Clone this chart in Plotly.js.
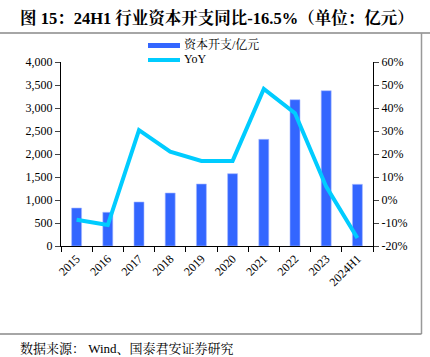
<!DOCTYPE html>
<html><head><meta charset="utf-8">
<script src="https://cdn.plot.ly/plotly-3.0.1.min.js"></script>
<style>body{margin:0;padding:0;background:#fff}#c{width:430px;height:357px}</style>
</head><body><div id="c"></div>
<script>
const categories = ['2015','2016','2017','2018','2019','2020','2021','2022','2023','2024H1'];
const capex = [826, 733, 957, 1152, 1348, 1572, 2319, 3180, 3376, 1341];
const yoy = [-8.6, -10.9, 30.4, 21, 17, 17, 48.3, 37.7, 5.8, -16.5];
const leftTicks = [0,500,1000,1500,2000,2500,3000,3500,4000];
const rightTicks = [-20,-10,0,10,20,30,40,50,60];
const seriesNames = ['资本开支/亿元', 'YoY'];

const L=61, R=373, T=62, B=246, W=430, H=357;
const px = x => (x-L)/(R-L);
const py = y => (B-y)/(B-T);
const FONT = '"Liberation Serif", "Times New Roman", "Noto Serif CJK SC", "Noto Sans CJK SC", serif';
const BAR_C = '#3366FF', LINE_C = '#00CCFF';

const traces = [
  {type:'bar', x:categories, y:capex, name:seriesNames[0], marker:{color:BAR_C, line:{color:'#aabbff', width:0.6}}, width:0.32, yaxis:'y'},
  {type:'scatter', mode:'lines', x:categories, y:yoy, name:seriesNames[1], line:{color:LINE_C, width:4}, yaxis:'y2'}
];
const layout = {
  width:W, height:H, margin:{l:L, r:W-R, t:T, b:H-B},
  paper_bgcolor:'#fff', plot_bgcolor:'#fff', showlegend:false,
  font:{family:FONT, size:12, color:'#000'},
  xaxis:{type:'category', tickson:'boundaries', ticks:'outside', ticklen:5, tickcolor:'#000',
    showline:true, linecolor:'#000', linewidth:1, tickangle:-45, showgrid:false, zeroline:false,
    tickfont:{family:FONT, size:12}},
  yaxis:{range:[0,4000], tickvals:leftTicks, ticktext:leftTicks.map(v=>v.toLocaleString('en-US')),
    ticks:'outside', ticklen:5, showline:true, linecolor:'#000', showgrid:false, zeroline:false,
    tickfont:{family:FONT, size:12}},
  yaxis2:{range:[-20,60], overlaying:'y', side:'right', tickvals:rightTicks, ticktext:rightTicks.map(v=>v+'%'),
    ticks:'outside', ticklen:5, showline:true, linecolor:'#000', showgrid:false, zeroline:false,
    tickfont:{family:FONT, size:12}},
  annotations:[
    {xref:'paper', yref:'paper', x:px(217), y:py(18), xanchor:'center', yanchor:'middle', showarrow:false,
     text:'<b>图 15：24H1 行业资本开支同比-16.5%（单位：亿元）</b>', font:{family:FONT, size:16.5, color:'#000'}},
    {xref:'paper', yref:'paper', x:px(18), y:py(348), xanchor:'left', yanchor:'middle', showarrow:false,
     text:'数据来源： Wind、国泰君安证券研究', font:{family:FONT, size:13, color:'#000'}},
    {xref:'paper', yref:'paper', x:px(182), y:py(45), xanchor:'left', yanchor:'middle', showarrow:false,
     text:seriesNames[0], font:{family:FONT, size:12, color:'#000'}},
    {xref:'paper', yref:'paper', x:px(182), y:py(59), xanchor:'left', yanchor:'middle', showarrow:false,
     text:seriesNames[1], font:{family:FONT, size:12, color:'#000'}}
  ],
  shapes:[
    {type:'line', xref:'paper', yref:'paper', x0:px(0), x1:px(430), y0:py(33), y1:py(33), line:{color:'#888', width:1.5}},
    {type:'line', xref:'paper', yref:'paper', x0:px(421.5), x1:px(421.5), y0:py(33), y1:py(334), line:{color:'#999', width:1.5}},
    {type:'line', xref:'paper', yref:'paper', x0:px(0), x1:px(421.5), y0:py(334), y1:py(334), line:{color:'#888', width:1.5}},
    {type:'rect', xref:'paper', yref:'paper', x0:px(148), x1:px(180), y0:py(43), y1:py(48), fillcolor:BAR_C, line:{width:0}},
    {type:'line', xref:'paper', yref:'paper', x0:px(148), x1:px(180), y0:py(60), y1:py(60), line:{color:LINE_C, width:4}}
  ]
};
Plotly.newPlot('c', traces, layout, {displayModeBar:false, staticPlot:true});
</script></body></html>
